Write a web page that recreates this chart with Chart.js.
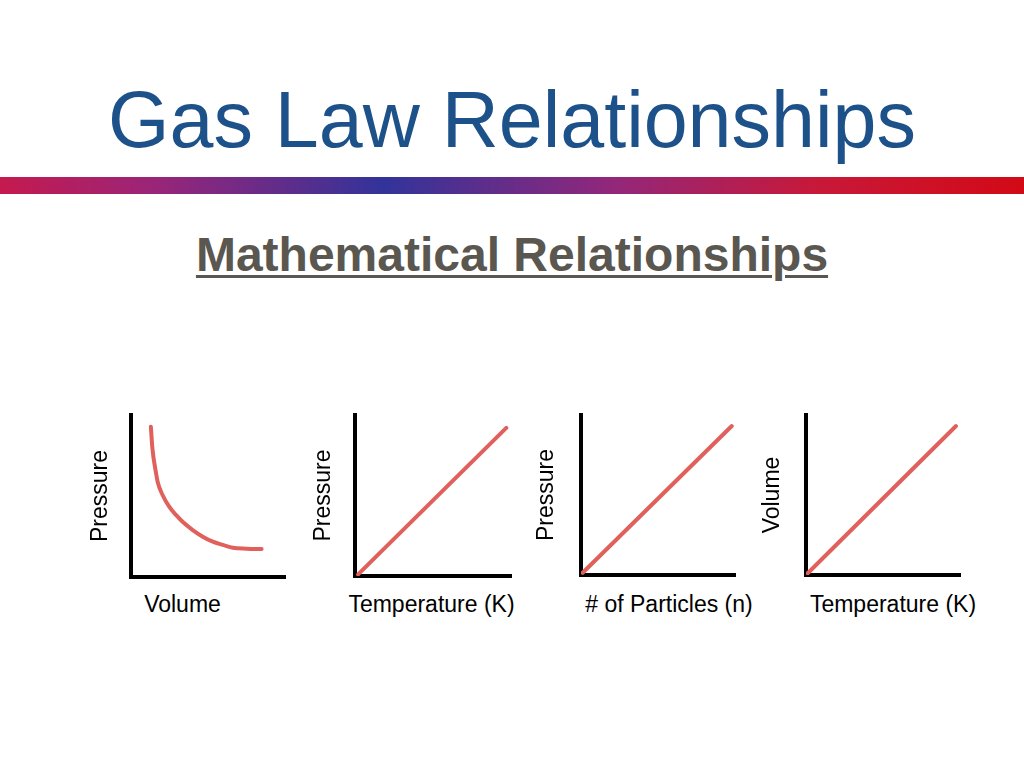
<!DOCTYPE html>
<html>
<head>
<meta charset="utf-8">
<title>Gas Law Relationships</title>
<script src="https://cdn.jsdelivr.net/npm/chart.js@4.4.1/dist/chart.umd.min.js"></script>
<style>
  body {
    margin: 0;
    width: 1024px;
    height: 768px;
    position: relative;
    overflow: hidden;
    background: #fff;
    font-family: "Liberation Sans", Arial, sans-serif;
  }
  .title {
    position: absolute;
    left: 0;
    top: 80px;
    width: 1024px;
    text-align: center;
    font-size: 79px;
    line-height: 79px;
    color: #1d5189;
  }
  .bar {
    position: absolute;
    left: 0;
    top: 177px;
    width: 1024px;
    height: 17px;
    background: linear-gradient(to right, #c51a4f 0%, #9a2578 15%, #32339a 37.5%, #93277a 60%, #c81838 80%, #d20a16 100%);
  }
  .subtitle {
    position: absolute;
    left: 0;
    top: 231px;
    width: 1024px;
    text-align: center;
    font-size: 48px;
    line-height: 48px;
    font-weight: bold;
    color: #5a5650;
    text-decoration: underline;
    text-decoration-thickness: 3px;
    text-underline-offset: 4px;
  }
  .panel {
    position: absolute;
    top: 405px;
    height: 185px;
  }
  .xlabel {
    position: absolute;
    top: 593px;
    font-size: 23px;
    line-height: 23px;
    color: #000;
    white-space: nowrap;
    transform: translateX(-50%);
  }
</style>
</head>
<body>
<div class="title">Gas Law Relationships</div>
<div class="bar"></div>
<div class="subtitle">Mathematical Relationships</div>

<canvas id="c0" class="panel"></canvas>
<canvas id="c1" class="panel"></canvas>
<canvas id="c2" class="panel"></canvas>
<canvas id="c3" class="panel"></canvas>

<script>
// axis titles
const xTitles = ["Volume", "Temperature (K)", "# of Particles (n)", "Temperature (K)"];
const yTitles = ["Pressure", "Pressure", "Pressure", "Volume"];

// Boyle: pressure vs volume (axes run 0..10)
const boyleVolume = [1.29, 1.39, 1.61, 1.75, 2.05, 2.48, 2.92, 3.35, 4.01, 4.66, 5.31, 5.97, 6.62, 7.50, 8.48];
const boylePressure = [9.28, 7.94, 6.50, 5.80, 5.06, 4.34, 3.83, 3.41, 2.90, 2.49, 2.18, 1.98, 1.80, 1.75, 1.73];

// Gay-Lussac: pressure vs temperature
const gayTemp = [0.2, 9.7];
const gayPressure = [0.1, 9.2];

// pressure vs number of particles
const particlesN = [0.11, 9.79];
const particlesPressure = [0.14, 9.31];

// Charles: volume vs temperature
const charlesTemp = [0.11, 9.74];
const charlesVolume = [0.11, 9.31];

const seriesX = [boyleVolume, gayTemp, particlesN, charlesTemp];
const seriesY = [boylePressure, gayPressure, particlesPressure, charlesVolume];

// where each little chart sits on the page
const panels = [
  { left: 89,  width: 201, titleGap: 19, bottom: 13, label: 182.5 },
  { left: 312, width: 204, titleGap: 20, bottom: 14, label: 431.5 },
  { left: 535, width: 205, titleGap: 23, bottom: 15, label: 669 },
  { left: 761, width: 204, titleGap: 22, bottom: 15, label: 893 },
];

const FONT = "'Liberation Sans', Arial, sans-serif";

panels.forEach((p, i) => {
  const canvas = document.getElementById("c" + i);
  canvas.width = p.width;
  canvas.height = 185;
  canvas.style.left = p.left + "px";
  canvas.style.width = p.width + "px";

  const points = seriesX[i].map((x, k) => ({ x: x, y: seriesY[i][k] }));

  new Chart(canvas, {
    type: "line",
    data: {
      datasets: [
        {
          data: points,
          borderColor: "#e0615c",
          borderWidth: 4,
          borderCapStyle: "round",
          borderJoinStyle: "round",
          pointRadius: 0,
          cubicInterpolationMode: "monotone",
          fill: false,
        },
      ],
    },
    options: {
      responsive: false,
      animation: false,
      devicePixelRatio: 1,
      layout: { padding: { left: 0, top: 10, right: 5, bottom: p.bottom } },
      plugins: { legend: { display: false }, tooltip: { enabled: false } },
      scales: {
        x: {
          type: "linear",
          min: 0,
          max: 10,
          ticks: { display: false },
          grid: { display: false, drawTicks: false },
          border: { display: true, color: "#000", width: 4 },
        },
        y: {
          type: "linear",
          min: 0,
          max: 10,
          ticks: { display: false },
          grid: { display: false, drawTicks: false },
          border: { display: true, color: "#000", width: 4 },
          title: {
            display: true,
            text: yTitles[i],
            color: "#000",
            font: { family: FONT, size: 23, lineHeight: 1 },
            padding: { top: 0, bottom: p.titleGap },
          },
        },
      },
    },
  });

  const lbl = document.createElement("div");
  lbl.className = "xlabel";
  lbl.style.left = p.label + "px";
  lbl.textContent = xTitles[i];
  document.body.appendChild(lbl);
});
</script>
</body>
</html>
